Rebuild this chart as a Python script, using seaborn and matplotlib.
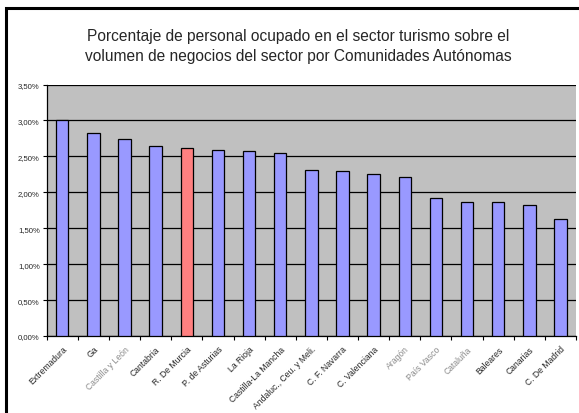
import matplotlib
matplotlib.use("Agg")
import matplotlib.pyplot as plt
import seaborn as sns
import pandas as pd
from matplotlib.ticker import FuncFormatter, MultipleLocator, FixedLocator
from matplotlib.patches import Rectangle

categories = ["Extremadura", "Ga", "Castilla y León", "Cantabria", "R. De Murcia",
              "P. de Asturias", "La Rioja", "Castilla-La Mancha", "Andaluc., Ceu. y Meli.",
              "C. F. Navarra", "C. Valenciana", "Aragón", "País Vasco", "Cataluña",
              "Baleares", "Canarias", "C. De Madrid"]
values = [3.00, 2.82, 2.74, 2.65, 2.62, 2.59, 2.57, 2.545, 2.31, 2.29, 2.26, 2.21,
          1.92, 1.87, 1.87, 1.83, 1.63]
highlight = "R. De Murcia"
grey_labels = ["Castilla y León", "Aragón", "País Vasco", "Cataluña"]
title = ("Porcentaje de personal ocupado en el sector turismo sobre el\n"
         "volumen de negocios del sector por Comunidades Autónomas")

sns.set_style("white")
plt.rcParams['font.family'] = ['Liberation Sans', 'DejaVu Sans']

df = pd.DataFrame({"cat": categories, "val": values})
palette = {c: ("#FF8080" if c == highlight else "#9999FF") for c in categories}

fig = plt.figure(figsize=(5.79, 4.14), dpi=100)
W, H = 579, 414
ax = fig.add_axes([46.7 / W, 1 - 337 / H, (576 - 46.7) / W, (337 - 85.5) / H])
ax.set_facecolor("#C0C0C0")

sns.barplot(data=df, x="cat", y="val", hue="cat", palette=palette, legend=False,
            width=0.4, saturation=1, edgecolor="black", linewidth=0.9, ax=ax, zorder=3)

ax.set_xlim(-0.5, len(categories) - 0.5)
ax.set_ylim(0, 3.5)
ax.yaxis.set_major_locator(MultipleLocator(0.5))
ax.yaxis.set_major_formatter(FuncFormatter(lambda v, p: f"{v:.2f}%".replace(".", ",")))
ax.grid(axis="y", color="black", linewidth=0.9, zorder=1)
ax.set_axisbelow(True)
ax.set_xlabel("")
ax.set_ylabel("")

for s in ["top", "right"]:
    ax.spines[s].set_visible(False)
for s in ["left", "bottom"]:
    ax.spines[s].set_color("black")
    ax.spines[s].set_linewidth(0.9)

ax.tick_params(axis="y", labelsize=5.6, length=3, direction="out", color="black", width=0.8, pad=2, left=True)
ax.set_xticks(range(len(categories)))
ax.set_xticklabels(categories, rotation=45, ha="right", rotation_mode="anchor", fontsize=6.2)
ax.tick_params(axis="x", length=0, pad=6)
ax.xaxis.set_minor_locator(FixedLocator([i + 0.5 for i in range(-1, len(categories))]))
ax.tick_params(axis="x", which="minor", length=3, direction="out", color="black", width=0.8, bottom=True)
for lbl in ax.get_xticklabels():
    if lbl.get_text() in grey_labels:
        lbl.set_color("#8a8a8a")

fig.text(298 / W, 1 - 46.5 / H, title, ha="center", va="center", fontsize=11.2, linespacing=1.4)

fig.patches.append(Rectangle((6 / W, -0.1), 1.2, 1 - 9 / H + 0.1, transform=fig.transFigure,
                             fill=False, edgecolor="black", linewidth=2.2))

fig.savefig("out.png", dpi=100)
